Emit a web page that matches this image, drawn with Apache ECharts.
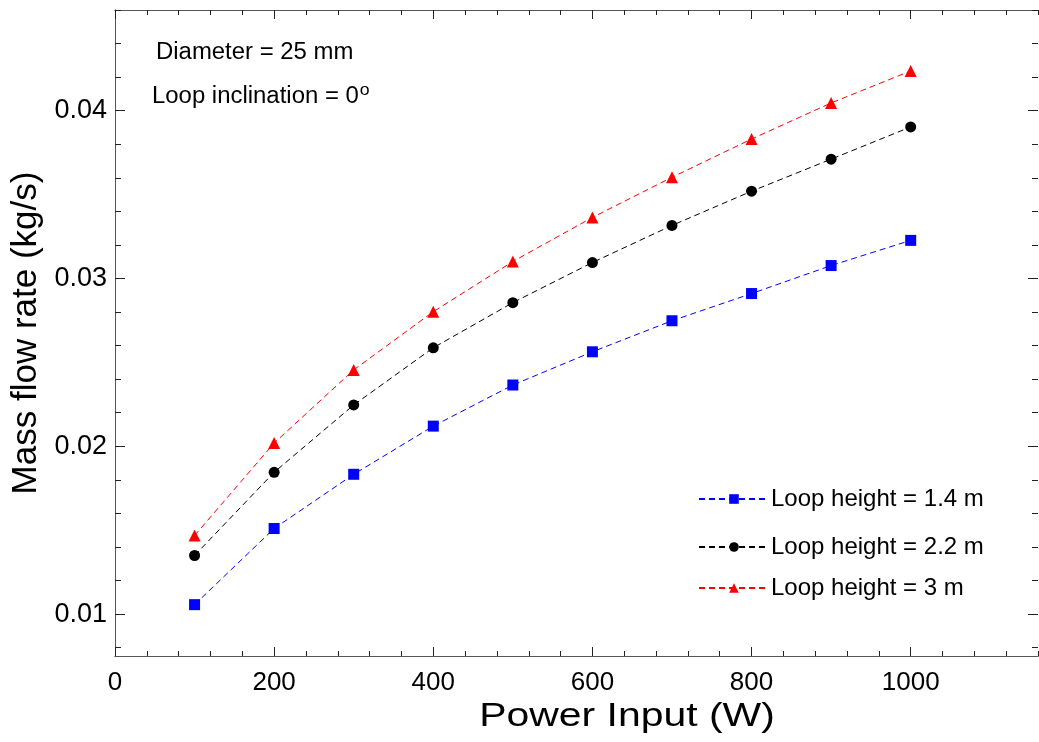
<!DOCTYPE html>
<html>
<head>
<meta charset="utf-8">
<script src="https://cdn.jsdelivr.net/npm/echarts@6/dist/echarts.min.js"></script>
<style>html,body{margin:0;padding:0;background:#fff}#c{width:1039px;height:742px}</style>
</head>
<body>
<div id="c"></div>
<script>
const powerInput = [100, 200, 300, 400, 500, 600, 700, 800, 900, 1000];
const height14 = [0.01056, 0.0151, 0.01833, 0.0212, 0.02365, 0.02563, 0.02748, 0.0291, 0.03077, 0.03227];
const height22 = [0.01349, 0.01845, 0.02246, 0.02587, 0.02856, 0.03095, 0.03316, 0.0352, 0.03711, 0.03903];
const height3 = [0.01468, 0.02019, 0.02455, 0.02802, 0.03101, 0.03364, 0.03603, 0.03831, 0.04046, 0.04237];
const seriesNames = ['Loop height = 1.4 m', 'Loop height = 2.2 m', 'Loop height = 3 m'];
const xMajorTicks = [0, 200, 400, 600, 800, 1000];
const xMinorTicks = [40, 80, 120, 160, 240, 280, 320, 360, 440, 480, 520, 560, 640, 680, 720, 760, 840, 880, 920, 960, 1040, 1080, 1120, 1160];
const yMajorTicks = [0.01, 0.02, 0.03, 0.04];
const yMinorTicks = [0.008, 0.012, 0.014, 0.016, 0.018, 0.022, 0.024, 0.026, 0.028, 0.032, 0.034, 0.036, 0.038, 0.042, 0.044, 0.046];
const X_MIN = 0, X_MAX = 1160, Y_MIN = 0.0075, Y_MAX = 0.046;

const FONT = 'Liberation Sans, Arial, sans-serif';
const chart = echarts.init(document.getElementById('c'), null, {renderer: 'canvas'});

function xAxisDef(pos, major, showLabel, extra) {
  return Object.assign({
    type: 'value', position: pos, min: X_MIN, max: X_MAX,
    splitLine: {show: false},
    axisLine: {show: true, onZero: false, lineStyle: {color: '#555', width: 1}},
    axisTick: {show: true, inside: true, length: major ? 9 : 5, customValues: major ? xMajorTicks : xMinorTicks, lineStyle: {color: '#222', width: 1}},
    axisLabel: {show: showLabel, customValues: xMajorTicks, margin: 14, fontSize: 26, color: '#000', fontFamily: FONT,
      formatter: v => String(v)}
  }, extra || {});
}
function yAxisDef(pos, major, showLabel, extra) {
  return Object.assign({
    type: 'value', position: pos, min: Y_MIN, max: Y_MAX,
    splitLine: {show: false},
    axisLine: {show: pos === 'left', onZero: false, lineStyle: {color: '#555', width: 1}},
    axisTick: {show: true, inside: true, length: major ? 10 : 6, customValues: major ? yMajorTicks : yMinorTicks, lineStyle: {color: '#222', width: 1}},
    axisLabel: {show: showLabel, customValues: yMajorTicks, margin: 8, fontSize: 27, color: '#000', fontFamily: FONT,
      formatter: v => v.toFixed(2)}
  }, extra || {});
}

const markers = ['rect', 'circle', 'triangle'];
const colors = ['#0000ff', '#000000', '#ff0000'];
const sizes = [11, 11, 12];
const datas = [height14, height22, height3];

const series = datas.map((d, i) => ({
  name: seriesNames[i],
  type: 'line',
  xAxisIndex: 0, yAxisIndex: 0,
  data: powerInput.map((x, j) => [x, d[j]]),
  symbol: markers[i],
  symbolSize: sizes[i],
  showSymbol: true,
  itemStyle: {color: colors[i]},
  lineStyle: {color: colors[i], width: 1, type: [6, 4]},
  animation: false,
  z: 3 + i
}));

const legendCenters = [501, 549, 590];
const legends = seriesNames.map((n, i) => ({
  data: [n],
  left: 698, top: legendCenters[i] - 14,
  orient: 'vertical',
  itemWidth: 70, itemHeight: 12, itemGap: 0,
  padding: 0,
  textStyle: {fontSize: 24, color: '#000', fontFamily: FONT, padding: [0, 0, 0, -3]},
  selectedMode: false
}));

chart.setOption({
  backgroundColor: '#fff',
  animation: false,
  grid: {left: 115, right: 1, top: 10, bottom: 86, containLabel: false},
  xAxis: [
    xAxisDef('bottom', true, true),
    xAxisDef('bottom', false, false),
    xAxisDef('top', true, false),
    xAxisDef('top', false, false)
  ],
  yAxis: [
    yAxisDef('left', true, true, {name: 'Mass flow rate (kg/s)', nameLocation: 'middle', nameGap: 69,
      nameTextStyle: {fontSize: 35, color: '#000', fontFamily: FONT}}),
    yAxisDef('left', false, false),
    yAxisDef('right', true, false),
    yAxisDef('right', false, false)
  ],
  legend: legends,
  graphic: [
    {type: 'text', x: 627, y: 717, scaleX: 1.24, style: {text: 'Power Input (W)', fontSize: 33, fill: '#000', fontFamily: FONT, align: 'center', verticalAlign: 'middle'}},
    {type: 'text', x: 156, y: 53, scaleX: 1.04, style: {text: 'Diameter = 25 mm', fontSize: 23, fill: '#000', fontFamily: FONT, verticalAlign: 'middle'}},
    {type: 'text', x: 152, y: 97, scaleX: 1.04, style: {
      text: 'Loop inclination = 0{sup|o}', fontSize: 23, fill: '#000', fontFamily: FONT, verticalAlign: 'middle',
      rich: {sup: {fontSize: 17, fontFamily: FONT, fill: '#000', padding: [0, 0, 13, 1]}}
    }}
  ],
  series: series
});
</script>
</body>
</html>
